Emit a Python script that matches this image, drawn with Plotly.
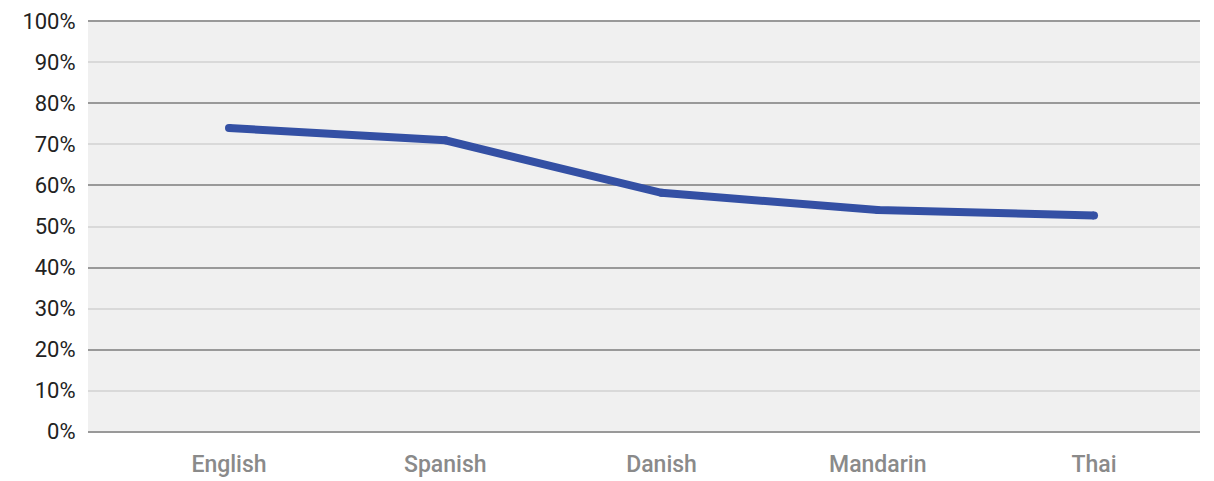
import plotly.graph_objects as go

languages = ["English", "Spanish", "Danish", "Mandarin", "Thai"]
shares = [74.0, 71.0, 58.2, 54.0, 52.7]
y_ticks = list(range(0, 101, 10))
y_tick_labels = [f"{v}%" for v in y_ticks]

fig = go.Figure()
fig.add_trace(go.Scatter(
    x=languages, y=shares, mode="lines+markers",
    line=dict(color="#3450a4", width=8),
    marker=dict(color="#3450a4", size=8),
    showlegend=False, hoverinfo="skip",
))
fig.add_trace(go.Scatter(x=languages, y=shares, yaxis="y2", mode="none",
                         showlegend=False, hoverinfo="skip"))

pad = 0.3
fig.update_layout(
    width=1214, height=481,
    margin=dict(l=88, r=14, t=20, b=48),
    paper_bgcolor="white", plot_bgcolor="#f0f0f0",
    xaxis=dict(
        type="category", range=[-0.652, 4.49], showgrid=False, zeroline=False,
        showline=False, ticks="outside", ticklen=10, tickcolor="rgba(0,0,0,0)",
        automargin=False,
        tickfont=dict(family="Roboto, Arial, sans-serif", size=23, color="#8a8a8a", weight=500),
    ),
    yaxis=dict(
        range=[-pad, 100 + pad], tickvals=y_ticks, ticktext=y_tick_labels,
        showgrid=True, gridcolor="#d9d9d9", gridwidth=1.5, zeroline=False, showline=False,
        ticks="outside", ticklen=7, tickcolor="rgba(0,0,0,0)", automargin=False,
        tickfont=dict(family="Roboto, Arial, sans-serif", size=22, color="#222222"),
    ),
    yaxis2=dict(
        range=[-pad, 100 + pad], overlaying="y", tickvals=[0, 20, 40, 60, 80, 100],
        showticklabels=False, automargin=False,
        showgrid=True, gridcolor="#999999", gridwidth=2, zeroline=False, showline=False,
    ),
)
fig.write_html("out.html")
